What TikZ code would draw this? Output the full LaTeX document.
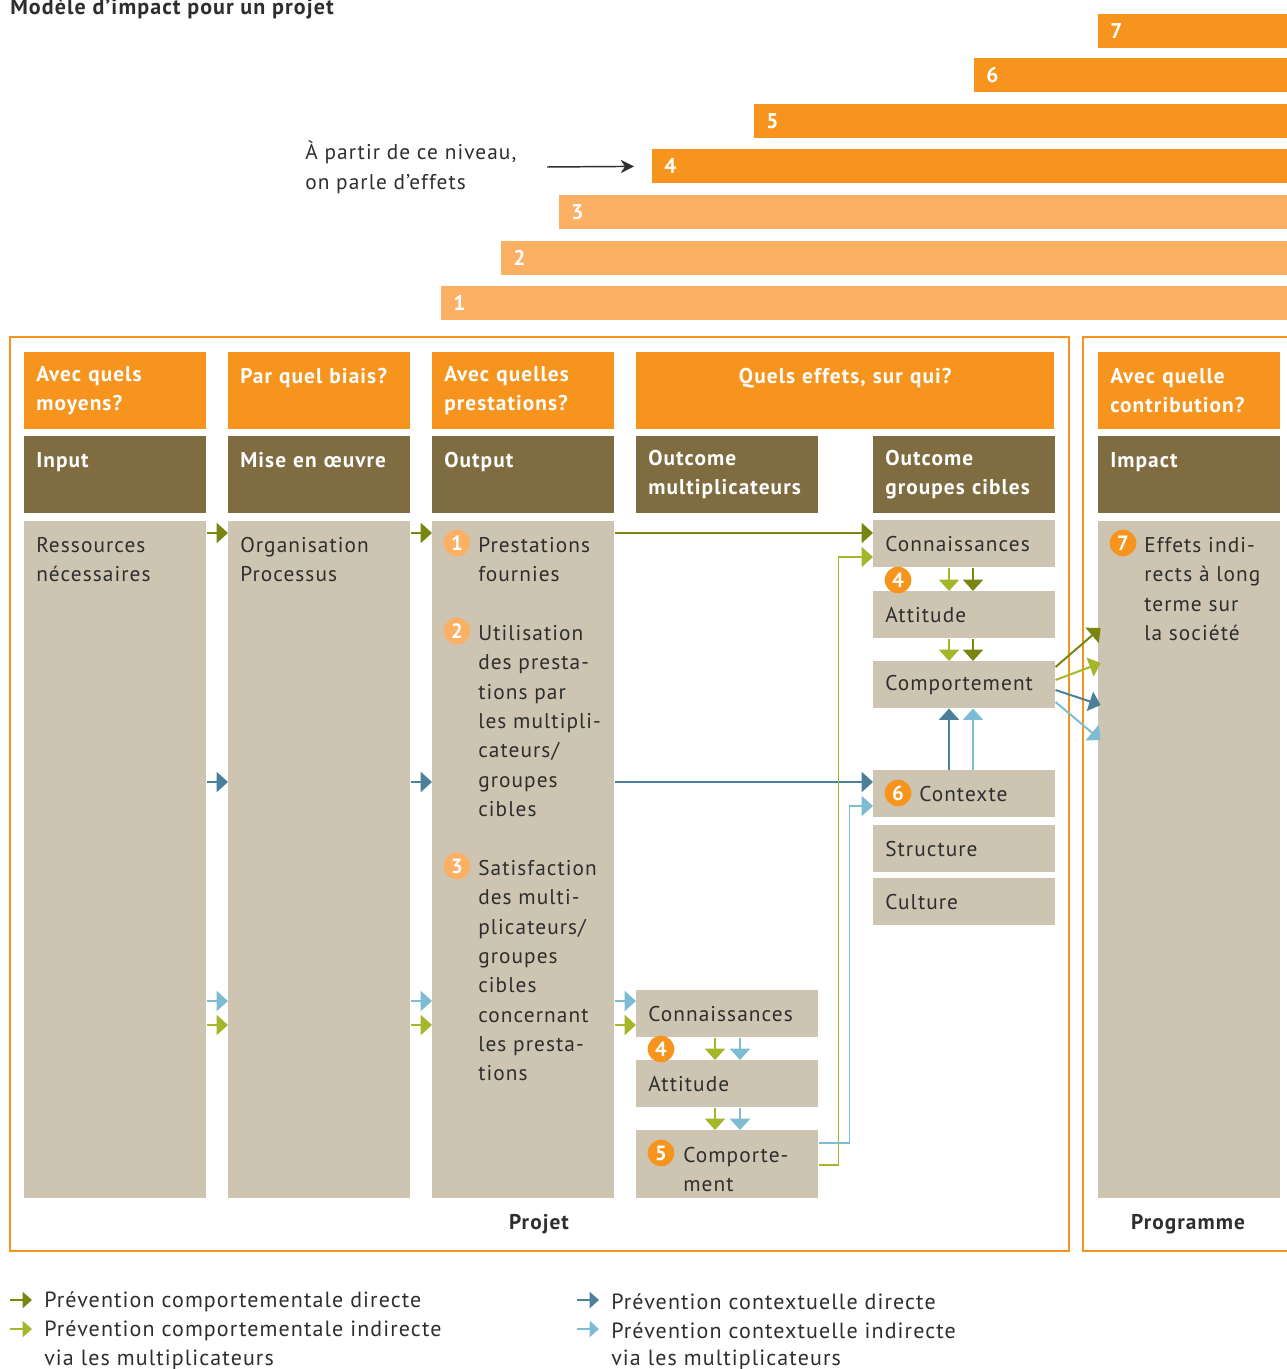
\documentclass[tikz,border=0pt]{standalone}
\usepackage{fontspec}
\setmainfont{PT Sans}[LetterSpace=5]
\usepackage{tikz}
\usetikzlibrary{positioning,arrows.meta}

\definecolor{orgA}{HTML}{F7941E}
\definecolor{orgB}{HTML}{FBB063}
\definecolor{brun}{HTML}{7F6D41}
\definecolor{beige}{HTML}{CEC4B2}
\definecolor{olive}{HTML}{7A8511}
\definecolor{lime}{HTML}{A6B62B}
\definecolor{petrol}{HTML}{4A8099}
\definecolor{ciel}{HTML}{7EBCD4}
\definecolor{ink}{HTML}{2E2E2E}

\tikzset{
  base/.style={font=\fontsize{16}{22}\selectfont, text=ink},
  txt/.style={base, inner sep=0pt, align=left, anchor=north west},
  ask/.style={fill=orgA, text=white, font=\bfseries\fontsize{16}{22}\selectfont, anchor=north west, inner xsep=9pt, inner ysep=0pt, minimum height=57.75pt, text width=118.5pt, align=left},
  level/.style={ask, fill=brun},
  colbox/.style={fill=beige, anchor=north west, minimum width=136.5pt, minimum height=507.75pt, inner sep=0pt},
  cell/.style={base, fill=beige, anchor=north west, inner xsep=9pt, inner ysep=0pt, minimum height=35.25pt, text width=118.5pt, align=left},
  num/.style={circle, fill=orgA, text=white, font=\bfseries\fontsize{15.5}{15.5}\selectfont, minimum size=20pt, inner sep=0pt},
  numlight/.style={num, fill=orgB},
  bar/.style={anchor=north west, minimum height=25.5pt, inner xsep=9pt, inner ysep=0pt, text=white, font=\bfseries\fontsize{16}{16}\selectfont, align=left},
  flow/.style={line width=1.5pt, -{Triangle[length=8.5pt,width=15pt]}},
  key/.style={line width=1.5pt, -{Triangle[length=7pt,width=12pt]}, shorten >=9pt},
  frame/.style={draw=orgA, line width=1.5pt},
  legend/.style={base, font=\fontsize{16.5}{22}\selectfont, anchor=west, inner sep=0pt},
}

\begin{document}
\begin{tikzpicture}[x=0.75pt, y=-0.75pt]
  \useasboundingbox (0,0) rectangle (1287,1369);

  \node[base, font=\bfseries\fontsize{16.5}{22}\selectfont, anchor=base west, inner sep=0pt] (title) at (10,15) {Modèle d’impact pour un projet};

  % niveaux
  \node[bar, fill=orgA, text width=126pt] (b7) at (1098,14) {7};
  \node[bar, fill=orgA, text width=219pt] (b6) at (974,58) {6};
  \node[bar, fill=orgA, text width=384pt] (b5) at (754,104) {5};
  \node[bar, fill=orgA, text width=460.5pt] (b4) at (652,149) {4};
  \node[bar, fill=orgB, text width=530.25pt] (b3) at (559,195) {3};
  \node[bar, fill=orgB, text width=573.75pt] (b2) at (501,241) {2};
  \node[bar, fill=orgB, text width=618.75pt] (b1) at (441,286) {1};

  \node[txt] (note) at (305,141) {À partir de ce niveau,\\on parle d’effets};
  \coordinate (noteend) at (547,167);
  \draw[-{Stealth[length=10pt,width=10pt]}, line width=1.1pt, ink, shorten >=13.5pt] (noteend) -- (b4.west);

  % cadres
  \draw[frame] (10,337) rectangle (1069,1251);
  \draw[frame] (1295,337) -| (1083,1251) -- (1295,1251);

  % questions
  \node[ask] (q1) at (24,352) {Avec quels\\moyens?};
  \node[ask] (q2) at (228,352) {Par quel biais?\\~};
  \node[ask] (q3) at (432,352) {Avec quelles\\prestations?};
  \node[ask, text width=295.5pt, align=center] (q4) at (636,352) {Quels effets, sur qui?\\~};
  \node[ask] (q6) at (1098,352) {Avec quelle\\contribution?};

  % niveaux d'effet
  \node[level] (n1) at (24,436) {Input\\~};
  \node[level] (n2) at (228,436) {Mise en œuvre\\~};
  \node[level] (n3) at (432,436) {Output\\~};
  \node[level] (n4) at (636,436) {Outcome\\multiplicateurs};
  \node[level] (n5) at (873,436) {Outcome\\groupes cibles};
  \node[level] (n6) at (1098,436) {Impact\\~};

  % colonnes
  \node[colbox] (c1) at (24,521) {};
  \node[colbox] (c2) at (228,521) {};
  \node[colbox] (c3) at (432,521) {};
  \node[colbox] (c6) at (1098,521) {};

  \node[txt] (res) at (36,537) {Ressources\\nécessaires};
  \node[txt] (org) at (240,537) {Organisation\\Processus};

  \node[numlight] (k1) at (457,543) {1};
  \node[txt] (t1) at (478,537) {Prestations\\fournies};
  \node[numlight] (k2) at (457,631) {2};
  \node[txt] (t2) at (478,625) {Utilisation\\des presta-\\tions par\\les multipli-\\cateurs/\\groupes\\cibles};
  \node[numlight] (k3) at (457,866) {3};
  \node[txt] (t3) at (478,860) {Satisfaction\\des multi-\\plicateurs/\\groupes\\cibles\\concernant\\les presta-\\tions};

  \node[num] (k7) at (1123,543) {7};
  \node[txt] (t7) at (1144,537) {Effets indi-\\rects à long\\terme sur\\la société};

  % groupes cibles
  \node[cell] (conG) at (873,520) {Connaissances};
  \node[cell] (attG) at (873,591) {Attitude};
  \node[cell] (comG) at (873,661) {Comportement};
  \node[cell] (ctx) at (873,770) {\hspace*{25.5pt}Contexte};
  \node[cell] (str) at (873,825) {Structure};
  \node[cell] (cul) at (873,878) {Culture};
  \node[num] (k4g) at (898,580) {4};
  \node[num] (k6) at (898,793) {6};

  % multiplicateurs
  \node[cell] (conM) at (636,990) {Connaissances};
  \node[cell] (attM) at (636,1060) {Attitude};
  \node[cell, minimum height=51pt] (comM) at (636,1130) {};
  \node[txt] (comMt) at (683,1147) {Comporte-\\ment};
  \node[num] (k4m) at (661,1049) {4};
  \node[num] (k5) at (661,1153) {5};

  \node[base, font=\bfseries\fontsize{16}{22}\selectfont] (projet) at (539,1224) {Projet};
  \node[base, font=\bfseries\fontsize{16}{22}\selectfont] (prog) at (1188,1224) {Programme};

  % fleches entre colonnes
  \coordinate (yOl) at (0,533);
  \coordinate (yPe) at (0,782);
  \coordinate (yCi) at (0,1001);
  \coordinate (yLi) at (0,1025);
  \draw[flow, olive] (c1.east |- yOl) -- (c2.west |- yOl);
  \draw[flow, petrol] (c1.east |- yPe) -- (c2.west |- yPe);
  \draw[flow, ciel] (c1.east |- yCi) -- (c2.west |- yCi);
  \draw[flow, lime] (c1.east |- yLi) -- (c2.west |- yLi);
  \draw[flow, olive] (c2.east |- yOl) -- (c3.west |- yOl);
  \draw[flow, petrol] (c2.east |- yPe) -- (c3.west |- yPe);
  \draw[flow, ciel] (c2.east |- yCi) -- (c3.west |- yCi);
  \draw[flow, lime] (c2.east |- yLi) -- (c3.west |- yLi);
  \draw[flow, olive] (c3.east |- yOl) -- (conG.west |- yOl);
  \draw[flow, petrol] (c3.east |- yPe) -- (ctx.west |- yPe);
  \draw[flow, ciel] (c3.east |- yCi) -- (conM.west |- yCi);
  \draw[flow, lime] (c3.east |- yLi) -- (conM.west |- yLi);

  % multiplicateurs -> groupes cibles
  \draw[flow, lime, line width=1.2pt] (comM.east |- 0,1165) -- ++(20,0) |- (conG.west |- 0,557);
  \draw[flow, ciel, line width=1.2pt] (comM.east |- 0,1143) -- ++(31,0) |- (ctx.west |- 0,806);

  % dans les colonnes
  \coordinate (xa) at (949,0);
  \coordinate (xb) at (973,0);
  \draw[flow, lime] (conG.south -| xa) -- (attG.north -| xa);
  \draw[flow, olive] (conG.south -| xb) -- (attG.north -| xb);
  \draw[flow, lime] (attG.south -| xa) -- (comG.north -| xa);
  \draw[flow, olive] (attG.south -| xb) -- (comG.north -| xb);
  \draw[flow, petrol] (ctx.north -| xa) -- (comG.south -| xa);
  \draw[flow, ciel] (ctx.north -| xb) -- (comG.south -| xb);
  \coordinate (xc) at (715,0);
  \coordinate (xd) at (740,0);
  \draw[flow, lime] (conM.south -| xc) -- (attM.north -| xc);
  \draw[flow, ciel] (conM.south -| xd) -- (attM.north -| xd);
  \draw[flow, lime] (attM.south -| xc) -- (comM.north -| xc);
  \draw[flow, ciel] (attM.south -| xd) -- (comM.north -| xd);

  % vers l'impact
  \draw[flow, olive] (comG.east |- 0,667) -- ([xshift=2pt]c6.west |- 0,628);
  \draw[flow, lime] (comG.east |- 0,680) -- ([xshift=2pt]c6.west |- 0,663);
  \draw[flow, petrol] (comG.east |- 0,690) -- ([xshift=2pt]c6.west |- 0,705);
  \draw[flow, ciel] (comG.east |- 0,702) -- ([xshift=2pt]c6.west |- 0,740);

  % legende
  \node[legend] (lg1) at (44,1302) {Prévention comportementale directe};
  \node[legend] (lg2) at (44,1331) {Prévention comportementale indirecte};
  \node[legend] (lg2b) at (44,1360) {via les multiplicateurs};
  \node[legend] (lg3) at (611,1302) {Prévention contextuelle directe};
  \node[legend] (lg4) at (611,1331) {Prévention contextuelle indirecte};
  \node[legend] (lg4b) at (611,1360) {via les multiplicateurs};
  \coordinate (k1a) at (10,1300);
  \coordinate (k2a) at (10,1329);
  \coordinate (k3a) at (577,1300);
  \coordinate (k4a) at (577,1329);
  \draw[key, olive] (k1a) -- (k1a -| lg1.west);
  \draw[key, lime] (k2a) -- (k2a -| lg2.west);
  \draw[key, petrol] (k3a) -- (k3a -| lg3.west);
  \draw[key, ciel] (k4a) -- (k4a -| lg4.west);
\end{tikzpicture}
\end{document}
